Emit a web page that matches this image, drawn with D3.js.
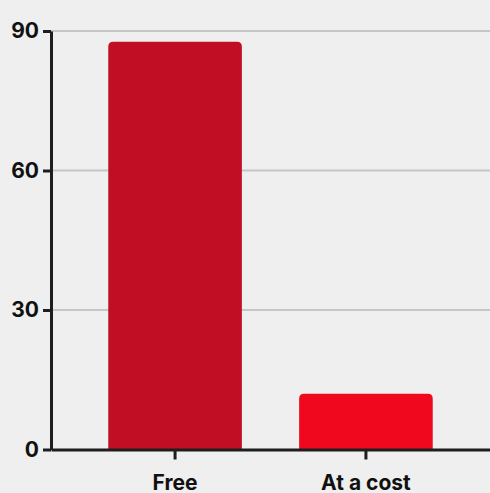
<!DOCTYPE html>
<html>
<head>
<meta charset="utf-8">
<script src="https://cdn.jsdelivr.net/npm/d3@7"></script>
<style>
  html, body { margin: 0; padding: 0; background: #efefef; }
  svg { display: block; }
  text { font-family: Inter, "Noto Sans", sans-serif; font-weight: 700; fill: #111; }
</style>
</head>
<body>
<svg id="chart" width="490" height="493"></svg>
<script>
const categories = ["Free", "At a cost"];
const values = [87.7, 12];
const barColors = ["#c20e24", "#f0091e"];
const yTicks = [0, 30, 60, 90];

const W = 490, H = 493;
const svg = d3.select("#chart");
svg.append("rect").attr("width", W).attr("height", H).attr("fill", "#efefef");

const x = d3.scaleBand().domain(categories).range([51, 490]).paddingInner(0.3).paddingOuter(0.3);
const y = d3.scaleLinear().domain([0, 90]).range([449.5, 31]);

// gridlines
svg.append("g").selectAll("line").data(yTicks.filter(d => d > 0)).join("line")
  .attr("x1", 51).attr("x2", W)
  .attr("y1", d => y(d)).attr("y2", d => y(d))
  .attr("stroke", "#c6c6c6").attr("stroke-width", 2);

// bars with rounded top corners
const r = 5;
svg.append("g").selectAll("path").data(categories).join("path")
  .attr("fill", (d, i) => barColors[i])
  .attr("d", (d, i) => {
    const x0 = x(d), w = x.bandwidth(), y0 = y(values[i]), yb = y(0);
    return `M${x0},${yb}V${y0 + r}Q${x0},${y0} ${x0 + r},${y0}H${x0 + w - r}Q${x0 + w},${y0} ${x0 + w},${y0 + r}V${yb}Z`;
  });

// y axis
const yAxis = svg.append("g").attr("transform", "translate(51,0)")
  .call(d3.axisLeft(y).tickValues(yTicks).tickSize(8).tickPadding(4).tickSizeOuter(0));
yAxis.select(".domain").attr("stroke", "#1e1e1e").attr("stroke-width", 3);
yAxis.selectAll(".tick line").attr("stroke", "#1e1e1e").attr("stroke-width", 3);
yAxis.selectAll(".tick text").attr("font-size", 21).attr("fill", "#111")
  .style("font-family", "Inter, 'Noto Sans', sans-serif").style("font-weight", 700);

// x axis
const xAxis = svg.append("g").attr("transform", `translate(0,${y(0)})`)
  .call(d3.axisBottom(x).tickSize(10).tickPadding(16).tickSizeOuter(0));
xAxis.select(".domain").attr("stroke", "#1e1e1e").attr("stroke-width", 3);
xAxis.selectAll(".tick line").attr("stroke", "#1e1e1e").attr("stroke-width", 3);
xAxis.selectAll(".tick text").attr("font-size", 21).attr("fill", "#111")
  .style("font-family", "Inter, 'Noto Sans', sans-serif").style("font-weight", 700);
</script>
</body>
</html>
